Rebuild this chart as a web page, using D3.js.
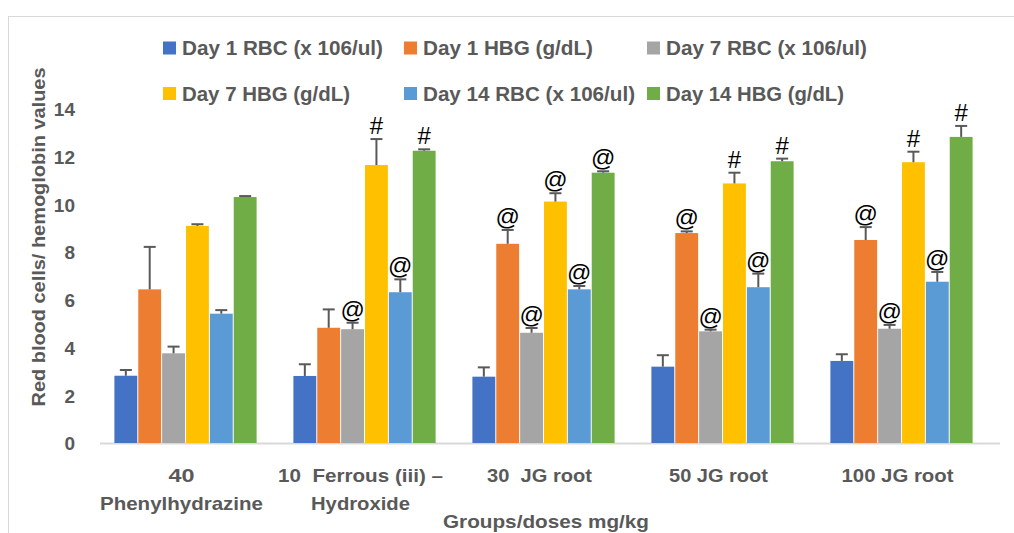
<!DOCTYPE html>
<html><head><meta charset="utf-8">
<script src="https://cdn.jsdelivr.net/npm/d3@7"></script>
<style>
body{margin:0;background:#fff;}
text{font-family:"Liberation Sans",Arial,sans-serif;font-weight:bold;white-space:pre;}
</style></head>
<body>
<svg id="c" width="1014" height="533"></svg>
<script>
const groups = [["40","Phenylhydrazine"],["10  Ferrous (iii) \u2013","Hydroxide"],["30  JG root"],["50 JG root"],["100 JG root"]];
const seriesNames = ["Day 1 RBC (x 106/ul)","Day 1 HBG (g/dL)","Day 7 RBC (x 106/ul)","Day 7 HBG (g/dL)","Day 14 RBC (x 106/ul)","Day 14 HBG (g/dL)"];
const colors = ["#4472C4","#ED7D31","#A5A5A5","#FFC000","#5B9BD5","#70AD47"];
// values[series][group]
const values = [
  [2.82, 2.81, 2.78, 3.20, 3.44],
  [6.44, 4.83, 8.35, 8.80, 8.51],
  [3.76, 4.77, 4.62, 4.68, 4.79],
  [9.10, 11.65, 10.12, 10.88, 11.77],
  [5.42, 6.32, 6.44, 6.53, 6.76],
  [10.31, 12.25, 11.33, 11.81, 12.83]
];
const errors = [
  [0.24, 0.49, 0.39, 0.48, 0.28],
  [1.78, 0.77, 0.58, 0.07, 0.54],
  [0.28, 0.27, 0.20, 0.07, 0.16],
  [0.07, 1.09, 0.35, 0.45, 0.44],
  [0.15, 0.54, 0.14, 0.57, 0.41],
  [0.04, 0.06, 0.06, 0.11, 0.46]
];
const marks = [
  ["", "", "", "", ""],
  ["", "", "@", "@", "@"],
  ["", "@", "@", "@", "@"],
  ["", "#", "@", "#", "#"],
  ["", "@", "@", "@", "@"],
  ["", "#", "@", "#", "#"]
];
const yTicks = [0,2,4,6,8,10,12,14];
const yTitle = "Red blood cells/ hemoglobin values";
const xTitle = "Groups/doses mg/kg";

const svg = d3.select("#c");
function fit(sel, w){ if(w) sel.attr("textLength",w).attr("lengthAdjust","spacingAndGlyphs"); return sel; }

svg.append("rect").attr("x",8.5).attr("y",16.5).attr("width",1020).attr("height",530)
  .attr("fill","none").attr("stroke","#d9d9d9");

const x0 = d3.scaleBand().domain(d3.range(groups.length)).range([96,991]).paddingInner(0.2).paddingOuter(0.1);
const x1 = d3.scaleBand().domain(d3.range(seriesNames.length)).range([0,x0.bandwidth()]);
const y = d3.scaleLinear().domain([0,14]).range([443,109]);

svg.append("line").attr("x1",100).attr("x2",1000).attr("y1",y(0)+0.5).attr("y2",y(0)+0.5).attr("stroke","#d9d9d9").attr("stroke-width",2);

const ya = svg.append("g").attr("transform","translate(75,0)")
  .call(d3.axisLeft(y).tickValues(yTicks).tickSize(0).tickPadding(0));
ya.select(".domain").remove();
ya.selectAll("text").attr("font-size",19).attr("fill","#595959").style("font-family","inherit").attr("dy","0.36em");

const g = svg.append("g");
seriesNames.forEach((s,si)=>{
  const gs = g.append("g");
  gs.selectAll("rect").data(values[si]).join("rect")
    .attr("x",(d,gi)=>x0(gi)+x1(si)+0.5)
    .attr("width",x1.bandwidth()-1)
    .attr("y",d=>y(d)).attr("height",d=>y(0)-y(d))
    .attr("fill",colors[si]);
  values[si].forEach((v,gi)=>{
    const cx = x0(gi)+x1(si)+x1.bandwidth()/2;
    const top = y(v+errors[si][gi]);
    gs.append("line").attr("x1",cx).attr("x2",cx).attr("y1",y(v)).attr("y2",top).attr("stroke","#595959").attr("stroke-width",2);
    gs.append("line").attr("x1",cx-6).attr("x2",cx+6).attr("y1",top).attr("y2",top).attr("stroke","#595959").attr("stroke-width",2);
    if(marks[si][gi]) gs.append("text").attr("x",cx).attr("y",top-5).attr("text-anchor","middle")
      .attr("font-size",24).attr("fill","#000").style("font-weight","normal").text(marks[si][gi]);
  });
});

const xLabelW = [[26,163],[165,99],[105],[99],[112]];
groups.forEach((lines,gi)=>{
  const cx = x0(gi)+x0.bandwidth()/2 - 4;
  lines.forEach((t,li)=>{
    fit(svg.append("text").attr("x",cx).attr("y",482+li*28).attr("text-anchor","middle")
      .attr("font-size",19).attr("fill","#595959").text(t), xLabelW[gi][li]);
  });
});
fit(svg.append("text").attr("x",546).attr("y",528).attr("text-anchor","middle").attr("font-size",19).attr("fill","#595959").text(xTitle),206);
fit(svg.append("text").attr("transform","translate(45,237) rotate(-90)").attr("text-anchor","middle").attr("font-size",19).attr("fill","#595959").text(yTitle),339);

const legPos = [[163,48],[404,48],[647,48],[163,93.5],[404,93.5],[647,93.5]];
const legTx = [182,423,666,182,423,666];
const legW = [201,170,201,168,212,178];
seriesNames.forEach((s,si)=>{
  const [lx,ly] = legPos[si];
  svg.append("rect").attr("x",lx).attr("y",ly-6.5).attr("width",13).attr("height",13).attr("fill",colors[si]);
  fit(svg.append("text").attr("x",legTx[si]).attr("y",ly+7).attr("font-size",20).attr("fill","#595959").text(s), legW[si]);
});
</script>
</body></html>
